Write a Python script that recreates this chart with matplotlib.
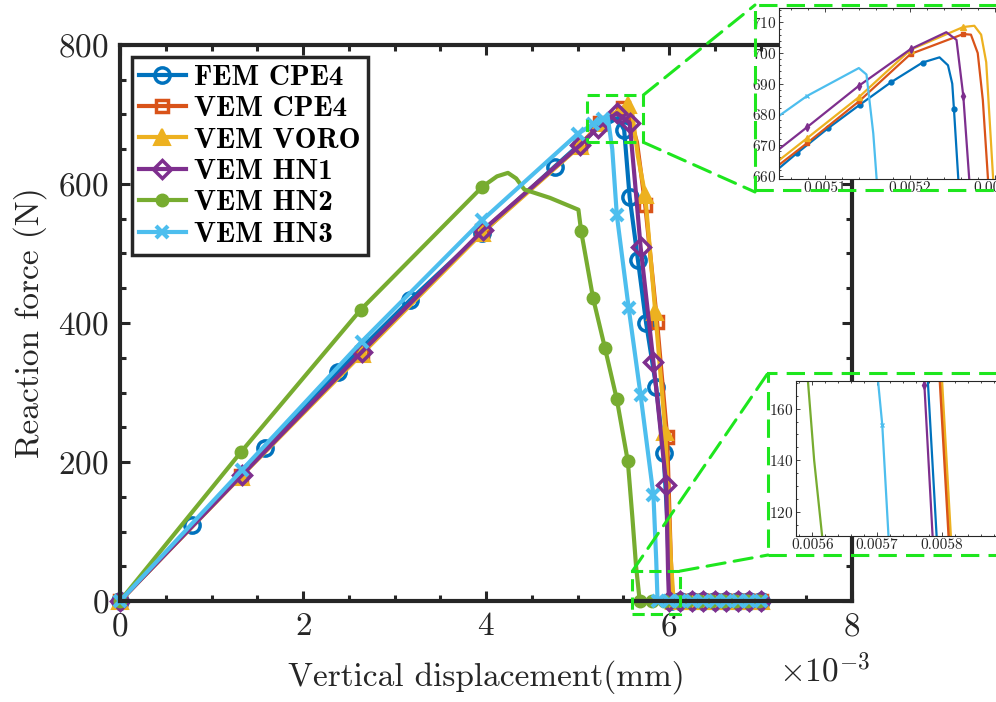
import matplotlib as mpl
import matplotlib.pyplot as plt
from matplotlib.patches import Rectangle, ConnectionPatch
from matplotlib.ticker import MultipleLocator, FormatStrFormatter

mpl.rcParams['font.family'] = 'serif'
mpl.rcParams['font.serif'] = ['cmr10']
mpl.rcParams['mathtext.fontset'] = 'cm'
mpl.rcParams['axes.unicode_minus'] = False
mpl.rcParams['axes.formatter.use_mathtext'] = True

# displacement values in units of 1e-3 mm, force in N
fem_x = [0, 0.79, 1.58, 2.38, 3.17, 3.96, 4.75, 5.20, 5.44, 5.51, 5.57, 5.66, 5.75, 5.86, 5.94, 5.98, 6.00,
         6.02, 6.125, 6.25, 6.375, 6.5, 6.625, 6.75, 6.875, 7.0]
fem_y = [0, 109, 220, 330, 433, 530, 625, 678, 695, 678, 581, 491, 400, 308, 213, 120, 30,
         0, 0, 0, 0, 0, 0, 0, 0, 0]
fem_mk = [0, 1, 2, 3, 4, 5, 6, 9, 10, 11, 12, 13, 14, 17, 18, 19, 20, 21, 22, 23, 24, 25]

cpe4_x = [0, 1.32, 2.64, 3.96, 5.03, 5.25, 5.50, 5.56, 5.65, 5.74, 5.87, 5.98, 6.02, 6.04,
          6.125, 6.25, 6.375, 6.5, 6.625, 6.75, 6.875, 7.0]
cpe4_y = [0, 180, 357, 532, 656, 688, 710, 700, 660, 570, 401, 236, 60, 0,
          0, 0, 0, 0, 0, 0, 0, 0]
cpe4_mk = [0, 1, 2, 3, 4, 5, 6, 9, 10, 11, 13, 14, 15, 16, 17, 18, 19, 20, 21]

voro_x = [0, 1.32, 2.64, 3.96, 5.03, 5.25, 5.50, 5.55, 5.60, 5.66, 5.74, 5.85, 5.96, 6.02, 6.05,
          6.125, 6.25, 6.375, 6.5, 6.625, 6.75, 6.875, 7.0]
voro_y = [0, 179, 355, 530, 655, 688, 710, 713, 700, 640, 584, 416, 243, 60, 0,
          0, 0, 0, 0, 0, 0, 0, 0]
voro_mk = [0, 1, 2, 3, 4, 5, 7, 10, 11, 12, 14, 15, 16, 17, 18, 19, 20, 21, 22]

hn1_x = [0, 1.33, 2.64, 3.97, 5.03, 5.22, 5.43, 5.57, 5.63, 5.69, 5.83, 5.97, 5.99,
         6.0, 6.125, 6.25, 6.375, 6.5, 6.625, 6.75, 6.875, 7.0]
hn1_y = [0, 181, 358, 534, 656, 681, 702, 688, 600, 509, 344, 167, 40,
         0, 0, 0, 0, 0, 0, 0, 0, 0]
hn1_mk = [0, 1, 2, 3, 4, 5, 6, 7, 9, 10, 11, 13, 14, 15, 16, 17, 18, 19, 20, 21]

hn2_x = [0, 1.32, 2.63, 3.96, 4.12, 4.24, 4.33, 4.42, 4.70, 5.01, 5.04, 5.17, 5.30, 5.43, 5.55, 5.60, 5.64,
         5.68, 5.81, 5.94, 6.07, 6.20, 6.33, 6.46, 6.59, 6.72, 6.85, 6.98]
hn2_y = [0, 214, 419, 596, 611, 616, 608, 592, 580, 563, 532, 436, 364, 290, 201, 120, 50,
         0, 0, 0, 0, 0, 0, 0, 0, 0, 0, 0]
hn2_mk = [0, 1, 2, 3, 10, 11, 12, 13, 14, 17, 18, 19, 20, 21, 22, 23, 24, 25, 26, 27]

hn3_x = [0, 1.33, 2.64, 3.96, 5.00, 5.17, 5.28, 5.33, 5.38, 5.43, 5.56, 5.69, 5.83, 5.86,
         5.875, 6.0, 6.125, 6.25, 6.375, 6.5, 6.625, 6.75, 6.875, 7.0]
hn3_y = [0, 188, 373, 548, 672, 686, 694, 697, 650, 555, 421, 296, 152, 60,
         0, 0, 0, 0, 0, 0, 0, 0, 0, 0]
hn3_mk = [0, 1, 2, 3, 4, 5, 6, 9, 10, 11, 12, 14, 15, 16, 17, 18, 19, 20, 21, 22, 23]

# zoom window near the peak
z1_fem_x = [0.005046, 0.005067, 0.005104, 0.005141, 0.005178, 0.005215, 0.005235, 0.005245, 0.005250, 0.005252, 0.005258]
z1_fem_y = [662.4, 667.3, 675.5, 683.1, 690.5, 696.9, 698.6, 696, 690, 681.7, 655]
z1_cpe4_x = [0.005046, 0.005079, 0.005140, 0.005201, 0.005263, 0.005272, 0.005280, 0.005286, 0.005293]
z1_cpe4_y = [663.5, 670.6, 684.2, 699.7, 706.2, 706.0, 700, 684.7, 655]
z1_voro_x = [0.005046, 0.005079, 0.005140, 0.005201, 0.005263, 0.005276, 0.005284, 0.005290, 0.005299]
z1_voro_y = [665.0, 672.2, 685.6, 701.1, 708.5, 708.9, 706, 697, 655]
z1_hn1_x = [0.005046, 0.005079, 0.005140, 0.005201, 0.005243, 0.005255, 0.005263, 0.005271]
z1_hn1_y = [668.6, 675.8, 689.3, 701.3, 706.8, 704.3, 686.0, 655]
z1_hn3_x = [0.005046, 0.005079, 0.005140, 0.005149, 0.005157, 0.005162]
z1_hn3_y = [679.5, 686.0, 695.1, 693, 673.8, 655]

# zoom window near the bottom of the drop
z2_y = [172, 110]
z2_hn2_x = [0.005593, 0.005603, 0.005616]
z2_hn2_y = [172, 140, 109]
z2_hn3_x = [0.005701, 0.005708, 0.005718]
z2_hn3_y = [172, 153.8, 109]
z2_hn1_x = [0.005772, 0.005773, 0.005786]
z2_hn1_y = [172, 169, 109]
z2_fem_x = [0.005778, 0.005792]
z2_cpe4_x = [0.005797, 0.005811]
z2_voro_x = [0.005800, 0.005814]

c_fem = '#0072BD'
c_cpe4 = '#D95319'
c_voro = '#EDB120'
c_hn1 = '#7E2F8E'
c_hn2 = '#77AC30'
c_hn3 = '#4DBEEE'
green = '#1EE61E'
dark = '#262626'

W, H = 996, 702
fig = plt.figure(figsize=(9.96, 7.02), dpi=100)
ax = fig.add_axes([120 / W, 1 - 601 / H, 732 / W, 556 / H])

lw = 3
ax.plot(fem_x, fem_y, color=c_fem, lw=lw, marker='o', ms=11, mfc='none', mew=2.5,
        markevery=fem_mk, clip_on=False, label='FEM CPE4')
ax.plot(cpe4_x, cpe4_y, color=c_cpe4, lw=lw, marker='s', ms=9, mfc='none', mew=2.5,
        markevery=cpe4_mk, clip_on=False, label='VEM CPE4')
ax.plot(voro_x, voro_y, color=c_voro, lw=lw, marker='^', ms=12, mfc=c_voro, mew=1.5,
        markevery=voro_mk, clip_on=False, label='VEM VORO')
ax.plot(hn1_x, hn1_y, color=c_hn1, lw=lw, marker='D', ms=9, mfc='none', mew=2.5,
        markevery=hn1_mk, clip_on=False, label='VEM HN1')
ax.plot(hn2_x, hn2_y, color=c_hn2, lw=lw, marker='o', ms=9, mfc=c_hn2, mew=1,
        markevery=hn2_mk, clip_on=False, label='VEM HN2')
ax.plot(hn3_x, hn3_y, color=c_hn3, lw=lw, marker='x', ms=9, mew=3,
        markevery=hn3_mk, clip_on=False, label='VEM HN3')

ax.set_xlim(0, 8)
ax.set_ylim(0, 800)
ax.xaxis.set_major_locator(MultipleLocator(2))
ax.xaxis.set_minor_locator(MultipleLocator(0.5))
ax.yaxis.set_major_locator(MultipleLocator(200))
ax.yaxis.set_minor_locator(MultipleLocator(50))
ax.tick_params(which='both', direction='in', top=True, right=True, colors=dark,
               labelsize=24, width=2.2, pad=8)
ax.tick_params(which='major', length=7)
ax.tick_params(which='minor', length=4)
for s in ax.spines.values():
    s.set_linewidth(3)
    s.set_color(dark)
ax.set_xlabel('Vertical displacement(mm)', fontsize=24, color=dark, labelpad=14)
ax.set_ylabel('Reaction force (N)', fontsize=24, color=dark, labelpad=8)
fig.text(870 / W, 1 - 670 / H, r'$\times10^{-3}$', fontsize=24, color=dark, ha='right', va='center')

leg = ax.legend(loc='upper left', bbox_to_anchor=(0.016, 0.978), borderaxespad=0,
                prop={'family': 'cmb10', 'size': 21}, handlelength=1.6, handletextpad=0.3,
                labelspacing=0.17, borderpad=0.25, fancybox=False, framealpha=1, edgecolor=dark)
leg.get_frame().set_linewidth(2.5)

# zoom rectangles on the main axes
r1 = Rectangle((5.10, 660), 0.62, 68, fill=False, ec=green, lw=2.2, ls=(0, (4, 2)), clip_on=False, zorder=5)
r2 = Rectangle((5.60, -19), 0.52, 62, fill=False, ec=green, lw=2.2, ls=(0, (4, 2)), clip_on=False, zorder=5)
ax.add_patch(r1)
ax.add_patch(r2)

# outer frames around the insets (figure coords)
b1 = Rectangle((755 / W, 1 - 190 / H), 260 / W, 185 / H, transform=fig.transFigure,
               fill=False, ec=green, lw=2.2, ls=(0, (6, 3)), clip_on=False)
b2 = Rectangle((768 / W, 1 - 555 / H), 250 / W, 182 / H, transform=fig.transFigure,
               fill=False, ec=green, lw=2.2, ls=(0, (6, 3)), clip_on=False)
fig.patches.extend([b1, b2])

for xy_a, xy_b in [((5.72, 728), (755 / W, 1 - 5 / H)), ((5.72, 660), (755 / W, 1 - 192 / H)),
                   ((5.60, 43), (768 / W, 1 - 373 / H)), ((6.12, 43), (768 / W, 1 - 555 / H))]:
    cp = ConnectionPatch(xyA=xy_a, coordsA=ax.transData, xyB=xy_b, coordsB=fig.transFigure,
                         color=green, lw=2.2, ls=(0, (6, 3)))
    fig.add_artist(cp)

# inset 1
ins1 = fig.add_axes([779 / W, 1 - 179 / H, 231 / W, 171 / H])
ins1.plot(z1_fem_x, z1_fem_y, color=c_fem, lw=1.6, marker='o', ms=3.5, markevery=[1, 2, 3, 4, 5, 9])
ins1.plot(z1_cpe4_x, z1_cpe4_y, color=c_cpe4, lw=1.6, marker='s', ms=3.5, markevery=[1, 2, 3, 4])
ins1.plot(z1_voro_x, z1_voro_y, color=c_voro, lw=1.6, marker='^', ms=4.5, markevery=[1, 2, 3, 4])
ins1.plot(z1_hn1_x, z1_hn1_y, color=c_hn1, lw=1.6, marker='d', ms=4, markevery=[1, 2, 3, 6])
ins1.plot(z1_hn3_x, z1_hn3_y, color=c_hn3, lw=1.6, marker='x', ms=3, markevery=[1])
ins1.set_xlim(0.005046, 0.005318)
ins1.set_ylim(658.9, 714.7)
ins1.set_xticks([0.0051, 0.0052, 0.0053])
ins1.xaxis.set_major_formatter(FormatStrFormatter('%.4f'))
ins1.set_yticks([660, 670, 680, 690, 700, 710])
ins1.xaxis.set_minor_locator(MultipleLocator(0.00002))
ins1.yaxis.set_minor_locator(MultipleLocator(2))

# inset 2
ins2 = fig.add_axes([796 / W, 1 - 536 / H, 214 / W, 155 / H])
ins2.plot(z2_hn2_x, z2_hn2_y, color=c_hn2, lw=1.6)
ins2.plot(z2_hn3_x, z2_hn3_y, color=c_hn3, lw=1.6, marker='x', ms=3, markevery=[1])
ins2.plot(z2_hn1_x, z2_hn1_y, color=c_hn1, lw=1.6, marker='d', ms=4, markevery=[1])
ins2.plot(z2_fem_x, z2_y, color=c_fem, lw=1.6)
ins2.plot(z2_cpe4_x, z2_y, color=c_cpe4, lw=2.2)
ins2.plot(z2_voro_x, z2_y, color=c_voro, lw=1.6)
ins2.set_xlim(0.005575, 0.005905)
ins2.set_ylim(110.7, 170.7)
ins2.set_xticks([0.0056, 0.0057, 0.0058])
ins2.xaxis.set_major_formatter(FormatStrFormatter('%.4f'))
ins2.set_yticks([120, 140, 160])
ins2.xaxis.set_minor_locator(MultipleLocator(0.00002))
ins2.yaxis.set_minor_locator(MultipleLocator(5))

for a in (ins1, ins2):
    a.tick_params(which='both', direction='in', top=True, right=True, colors=dark,
                  labelsize=11, width=0.6, pad=2)
    a.tick_params(which='major', length=3)
    a.tick_params(which='minor', length=1.5)
    for s in a.spines.values():
        s.set_linewidth(0.8)
        s.set_color(dark)

fig.savefig('out.png', dpi=100)
